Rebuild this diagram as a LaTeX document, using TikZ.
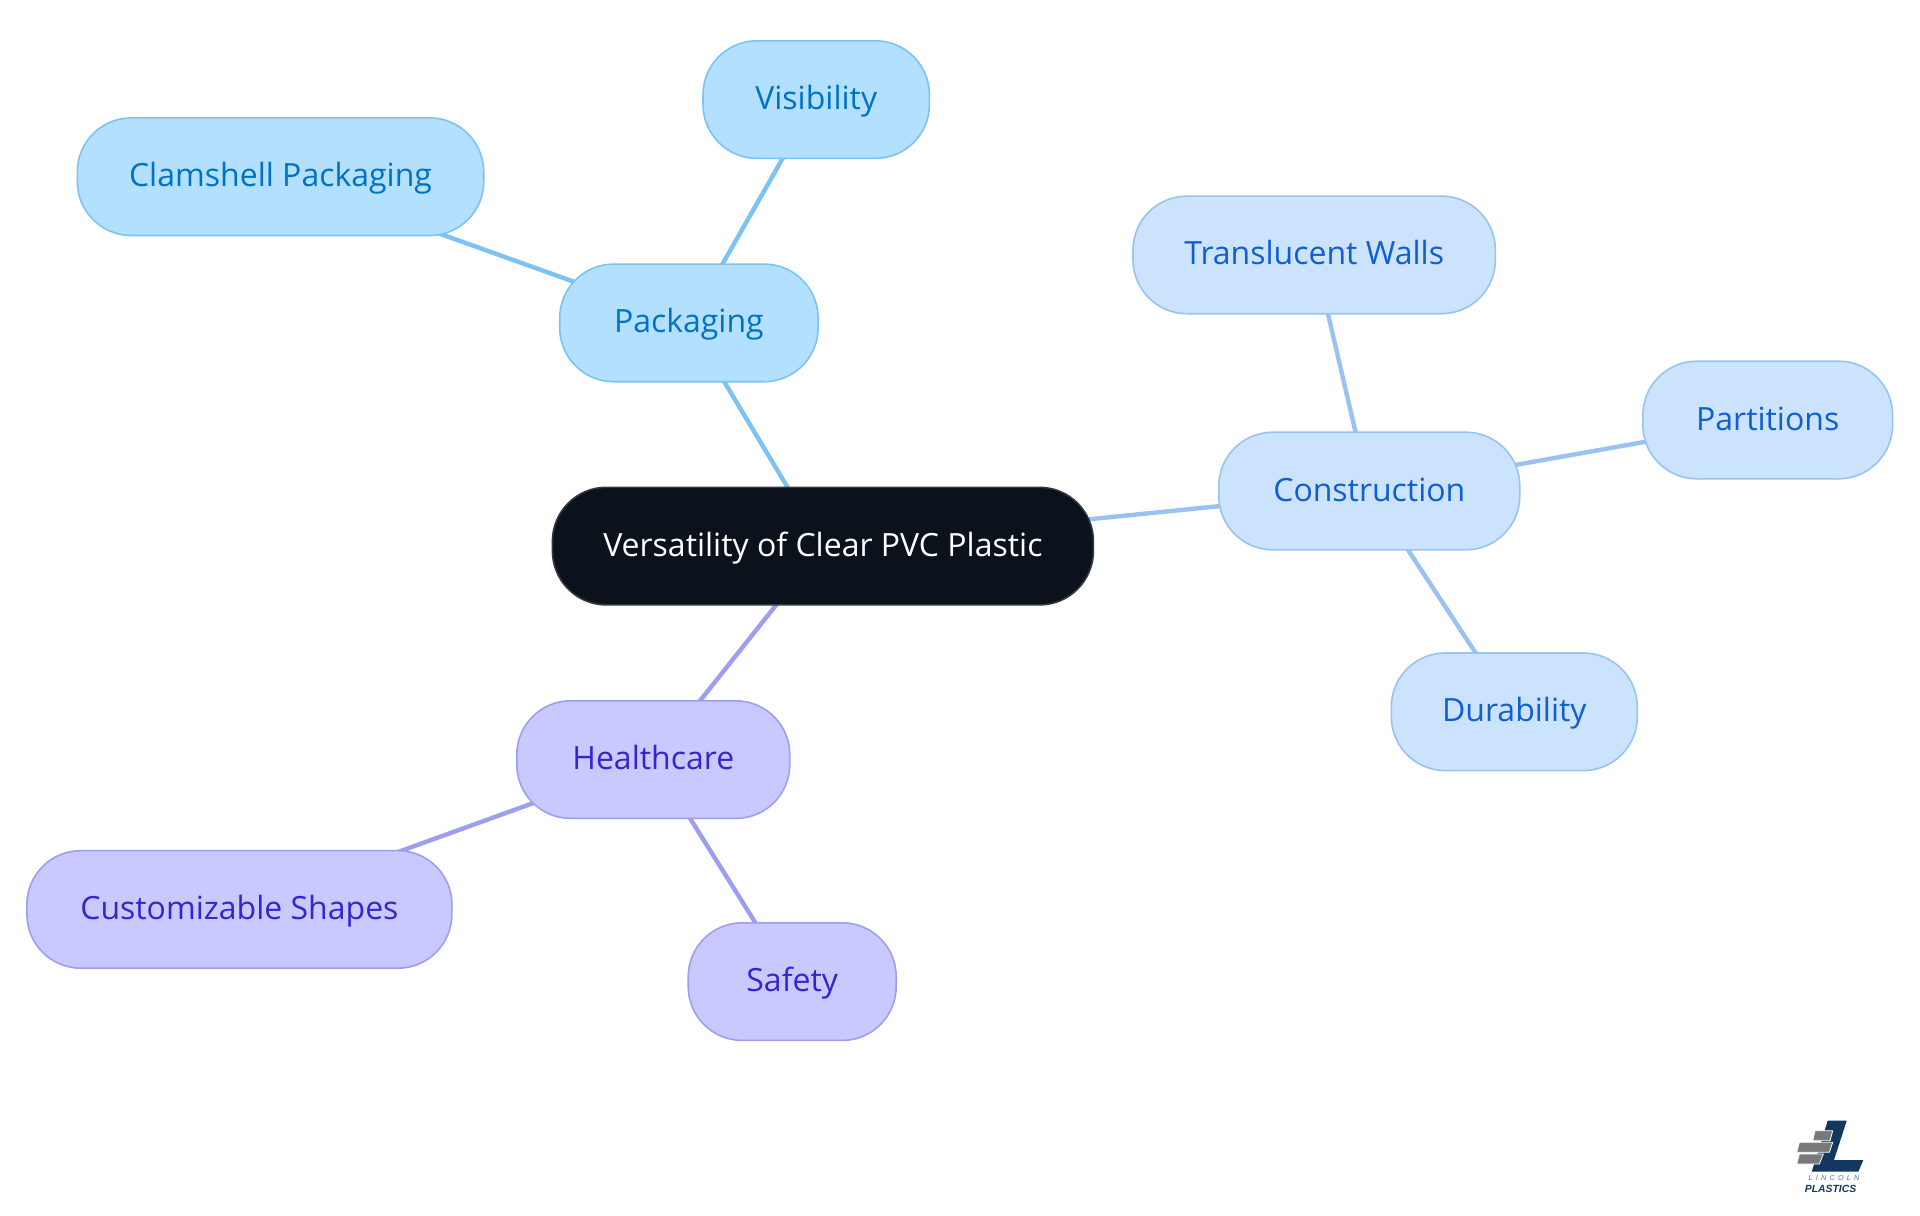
\documentclass[tikz,border=0pt]{standalone}
\usepackage{fontspec}
\setmainfont{Open Sans}
\newfontfamily\logoFont[LetterSpace=45]{Liberation Sans}
\newfontfamily\plasticsFont{Liberation Sans}
\usepackage{xcolor}
\usepackage{tikz}
\usetikzlibrary{positioning, backgrounds}
\definecolor{rootFill}{HTML}{0B121B}
\definecolor{rootDraw}{HTML}{33383E}
\definecolor{packFill}{HTML}{B3E0FF}
\definecolor{packDraw}{HTML}{7CC2F2}
\definecolor{packText}{HTML}{0072C6}
\definecolor{consFill}{HTML}{CCE3FD}
\definecolor{consDraw}{HTML}{99C2F1}
\definecolor{consText}{HTML}{0F5FD0}
\definecolor{careFill}{HTML}{C9C9FF}
\definecolor{careDraw}{HTML}{9E9EF0}
\definecolor{careText}{HTML}{3326CC}
\definecolor{logoNavy}{HTML}{12385F}
\definecolor{logoGrey}{HTML}{77797B}
\tikzset{
    topic/.style={rectangle, rounded corners=27pt, line width=0.8pt, minimum height=58.8pt, inner sep=0pt, text height=12.7pt, text depth=2.7pt, align=center, font=\fontsize{16}{19}\selectfont},
    rootTopic/.style={topic, draw=rootDraw, fill=rootFill, text=white},
    packTopic/.style={topic, draw=packDraw, fill=packFill, text=packText},
    consTopic/.style={topic, draw=consDraw, fill=consFill, text=consText},
    careTopic/.style={topic, draw=careDraw, fill=careFill, text=careText},
    link/.style={line width=2.2pt},
    packLink/.style={link, draw=packDraw},
    consLink/.style={link, draw=consDraw},
    careLink/.style={link, draw=careDraw},
    logoBar/.style={fill=logoGrey, draw=white, line width=0.4pt}
}
\begin{document}
\begin{tikzpicture}[x=0.5pt, y=-0.5pt]
    \useasboundingbox (0,0) rectangle (1920,1215);

    \node[rootTopic, minimum width=270.5pt] (Root) at (822.9,546.1) {Versatility of Clear PVC Plastic};

    \node[packTopic, minimum width=129.2pt, above=52pt of Root, xshift=-67pt] (Packaging) {Packaging};
    \node[packTopic, minimum width=113.2pt, above=52.05pt of Packaging, xshift=63.65pt] (Visibility) {Visibility};
    \node[packTopic, minimum width=203.2pt, above=13.5pt of Packaging, xshift=-204.2pt] (Clamshell) {Clamshell Packaging};

    \node[consTopic, minimum width=150.5pt, right=61.9pt of Root, yshift=27.55pt] (Construction) {Construction};
    \node[consTopic, minimum width=181.2pt, above=58.45pt of Construction, xshift=-27.55pt] (Translucent) {Translucent Walls};
    \node[consTopic, minimum width=124.9pt, right=60.7pt of Construction, yshift=35.5pt] (Partitions) {Partitions};
    \node[consTopic, minimum width=123pt, below=50.8pt of Construction, xshift=72.5pt] (Durability) {Durability};

    \node[careTopic, minimum width=136.5pt, below=47.15pt of Root, xshift=-84.8pt] (Healthcare) {Healthcare};
    \node[careTopic, minimum width=212.5pt, below=15.3pt of Healthcare, xshift=-206.95pt] (Customizable) {Customizable Shapes};
    \node[careTopic, minimum width=104pt, below=51.4pt of Healthcare, xshift=69.45pt] (Safety) {Safety};

    \begin{pgfonlayer}{background}
        \draw[packLink] (Root.center) -- (Packaging.center);
        \draw[packLink] (Packaging.center) -- (Visibility.center);
        \draw[packLink] (Packaging.center) -- (Clamshell.center);
        \draw[consLink] (Root.center) -- (Construction.center);
        \draw[consLink] (Construction.center) -- (Translucent.center);
        \draw[consLink] (Construction.center) -- (Partitions.center);
        \draw[consLink] (Construction.center) -- (Durability.center);
        \draw[careLink] (Root.center) -- (Healthcare.center);
        \draw[careLink] (Healthcare.center) -- (Customizable.center);
        \draw[careLink] (Healthcare.center) -- (Safety.center);
    \end{pgfonlayer}

    % logo
    \fill[logoNavy] (1827.7,1120.7) -- (1846.7,1120.7) -- (1834,1160) -- (1863.3,1160) -- (1858.3,1171.7) -- (1811.7,1171.7) -- cycle;
    \path[logoBar] (1815,1130.7) -- (1832.7,1130.7) -- (1830,1140.7) -- (1812.7,1140.7) -- cycle;
    \path[logoBar] (1799.3,1142.3) -- (1832.7,1142.3) -- (1829.3,1152.3) -- (1796.7,1152.3) -- cycle;
    \path[logoBar] (1799.3,1154) -- (1823.3,1154) -- (1819.3,1164) -- (1796.7,1164) -- cycle;
    \node[inner sep=0pt, text=logoNavy!70, font=\logoFont\fontsize{3.6}{4}\selectfont\itshape] (LogoTop) at (1834,1178.5) {LINCOLN};
    \node[inner sep=0pt, text=logoNavy, font=\plasticsFont\fontsize{5.2}{6}\selectfont\bfseries\itshape] (LogoBottom) at (1830.5,1188.5) {PLASTICS};
\end{tikzpicture}
\end{document}
